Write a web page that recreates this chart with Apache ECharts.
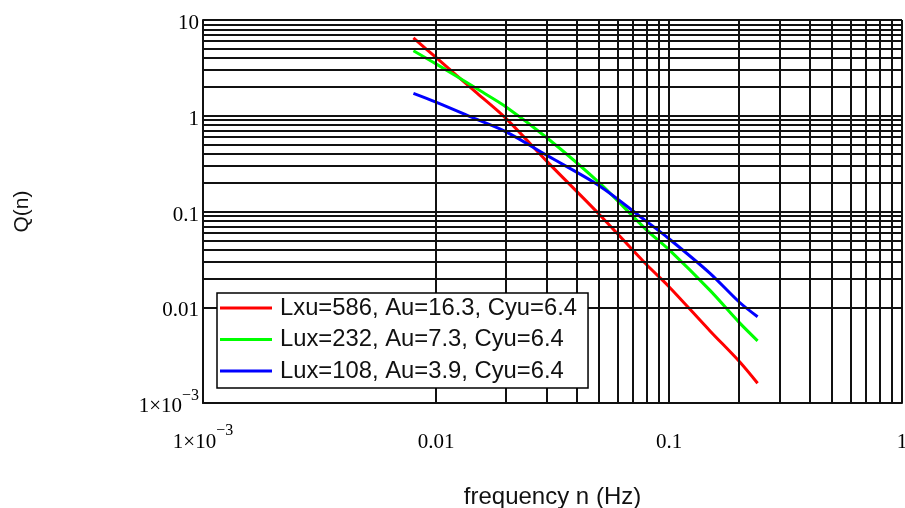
<!DOCTYPE html>
<html>
<head>
<meta charset="utf-8">
<script src="https://cdn.jsdelivr.net/npm/echarts@6/dist/echarts.min.js"></script>
<style>
  html, body { margin: 0; padding: 0; background: #fff; }
  #chart { width: 905px; height: 508px; }
</style>
</head>
<body>
<div id="chart"></div>
<script>
// Frequency samples (Hz) and spectral values Q(n) for three turbulence parameter sets
const freq   = [0.008, 0.01, 0.015, 0.02, 0.03, 0.05, 0.08, 0.1, 0.15, 0.2, 0.24];
const qRed   = [6.49, 4.06, 1.72, 0.934, 0.332, 0.0942, 0.0279, 0.0164, 0.00566, 0.00273, 0.00161];
const qGreen = [4.78, 3.48, 1.91, 1.237, 0.586, 0.201, 0.0644, 0.0399, 0.0150, 0.00695, 0.00446];
const qBlue  = [1.716, 1.39, 0.914, 0.678, 0.384, 0.187, 0.0789, 0.0519, 0.0226, 0.01135, 0.00796];

const seriesNames = [
  'Lxu=586, Au=16.3, Cyu=6.4',
  'Lux=232, Au=7.3, Cyu=6.4',
  'Lux=108, Au=3.9, Cyu=6.4'
];

// Tick labels per decade (exponent -3 upwards)
const xTickLabels = ['1×10^-3', '0.01', '0.1', '1'];
const yTickLabels = ['1×10^-3', '0.01', '0.1', '1', '10'];

const xDecades = [-3, -2, -1, 0];
const yDecades = [-3, -2, -1, 0, 1];

// Log grid: every integer multiple within each decade
function gridValues(decades) {
  const vals = [];
  for (let i = 0; i < decades.length - 1; i++) {
    for (let m = 1; m <= 9; m++) vals.push(Number((m * Math.pow(10, decades[i])).toPrecision(10)));
  }
  vals.push(Number(Math.pow(10, decades[decades.length - 1]).toPrecision(10)));
  return vals;
}

function tickFormatter(labels, firstExp) {
  return function (v) {
    const e = Math.round(Math.log10(v));
    const t = labels[e - firstExp];
    if (t === undefined) return '';
    if (t.indexOf('^') >= 0) {
      const parts = t.split('^');
      return '{b|' + parts[0] + '}{s|' + parts[1].replace('-', '−') + '}';
    }
    return t;
  };
}

const serif = "'Liberation Serif', 'Times New Roman', serif";
const sans = "'Liberation Sans', Arial, sans-serif";

// Mantissa on the middle of a tall line, exponent raised to its top
const richLabel = {
  b: { fontFamily: serif, fontSize: 21, color: '#000', lineHeight: 38 },
  s: { fontFamily: serif, fontSize: 16, color: '#000', lineHeight: 12, verticalAlign: 'top' }
};

const gridLineStyle = { color: '#111', width: 2, type: 'solid' };

const markLineData = []
  .concat(gridValues(xDecades).map(v => ({ xAxis: v })))
  .concat(gridValues(yDecades).map(v => ({ yAxis: v })));

const chart = echarts.init(document.getElementById('chart'), null, { renderer: 'canvas' });

chart.setOption({
  animation: false,
  backgroundColor: '#fff',
  grid: { left: 203, top: 20, right: 3, bottom: 105, containLabel: false, outerBoundsMode: 'none' },
  legend: {
    data: seriesNames,
    orient: 'vertical',
    left: 217,
    top: 293,
    padding: [3, 11, 5, 3],
    itemGap: 7.5,
    itemWidth: 52,
    itemHeight: 3,
    icon: 'rect',
    backgroundColor: '#fff',
    borderColor: '#000',
    borderWidth: 1.5,
    borderRadius: 0,
    textStyle: { fontFamily: sans, fontSize: 23.8, color: '#111', lineHeight: 24, padding: [0, 0, 0, 3] },
    z: 10
  },
  xAxis: {
    type: 'log',
    logBase: 10,
    min: 0.001,
    max: 1,
    name: 'frequency n (Hz)',
    nameLocation: 'middle',
    nameGap: 82,
    nameTextStyle: { fontFamily: sans, fontSize: 24, color: '#111' },
    axisLine: { show: true, lineStyle: gridLineStyle },
    axisTick: { show: false },
    splitLine: { show: false },
    axisLabel: {
      margin: 39,
      verticalAlign: 'middle',
      fontFamily: serif,
      fontSize: 21,
      color: '#000',
      showMinLabel: true,
      showMaxLabel: true,
      hideOverlap: false,
      formatter: tickFormatter(xTickLabels, -3),
      rich: richLabel
    }
  },
  yAxis: {
    type: 'log',
    logBase: 10,
    min: 0.001,
    max: 10,
    name: 'Q(n)',
    nameLocation: 'middle',
    nameGap: 170,
    nameTextStyle: { fontFamily: sans, fontSize: 21, color: '#111' },
    axisLine: { show: true, lineStyle: gridLineStyle },
    axisTick: { show: false },
    splitLine: { show: false },
    axisLabel: {
      margin: 4,
      padding: [7, 0, 0, 0],
      fontFamily: serif,
      fontSize: 21,
      color: '#000',
      showMinLabel: true,
      showMaxLabel: true,
      hideOverlap: false,
      formatter: tickFormatter(yTickLabels, -3),
      rich: richLabel
    }
  },
  series: [
    {
      name: 'grid',
      type: 'line',
      data: [],
      z: 1,
      silent: true,
      markLine: {
        silent: true,
        symbol: ['none', 'none'],
        label: { show: false },
        lineStyle: gridLineStyle,
        emphasis: { disabled: true },
        animation: false,
        data: markLineData
      }
    },
    {
      name: seriesNames[0],
      type: 'line',
      data: freq.map((f, i) => [f, qRed[i]]),
      symbol: 'none',
      smooth: 0.3,
      z: 3,
      color: '#ff0000',
      lineStyle: { color: '#ff0000', width: 3 }
    },
    {
      name: seriesNames[1],
      type: 'line',
      data: freq.map((f, i) => [f, qGreen[i]]),
      symbol: 'none',
      smooth: 0.3,
      z: 3,
      color: '#00ff00',
      lineStyle: { color: '#00ff00', width: 3 }
    },
    {
      name: seriesNames[2],
      type: 'line',
      data: freq.map((f, i) => [f, qBlue[i]]),
      symbol: 'none',
      smooth: 0.3,
      z: 3,
      color: '#0000ff',
      lineStyle: { color: '#0000ff', width: 3 }
    }
  ]
});
</script>
</body>
</html>
